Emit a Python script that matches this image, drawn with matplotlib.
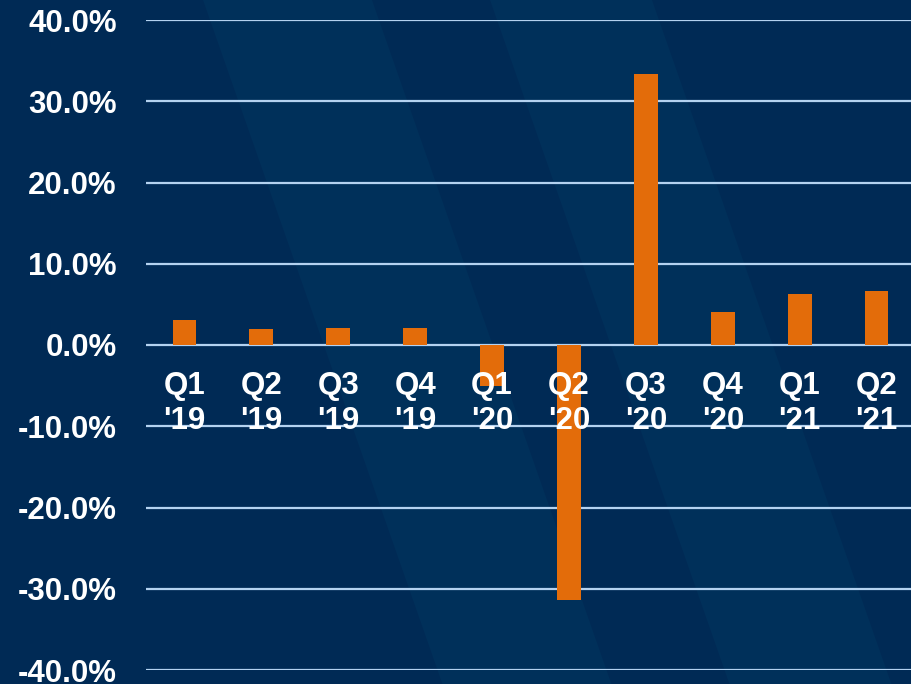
import matplotlib
matplotlib.use("Agg")
import matplotlib.pyplot as plt
from matplotlib.patches import Polygon
from matplotlib.ticker import FuncFormatter

quarters = ["Q1\n'19", "Q2\n'19", "Q3\n'19", "Q4\n'19", "Q1\n'20",
            "Q2\n'20", "Q3\n'20", "Q4\n'20", "Q1\n'21", "Q2\n'21"]
growth = [3.1, 2.0, 2.1, 2.1, -5.0, -31.4, 33.4, 4.1, 6.3, 6.7]
yticks = [-40, -30, -20, -10, 0, 10, 20, 30, 40]

plt.rcParams['font.family'] = ['Liberation Sans', 'DejaVu Sans']
plt.rcParams['font.weight'] = 'bold'

W, H = 912, 684
BG = '#002A55'
BAND = '#00305A'
fig = plt.figure(figsize=(W / 100, H / 100), dpi=100, facecolor=BG)

# background layer with decorative diagonal bands (pixel coords from top-left)
bg = fig.add_axes([0, 0, 1, 1], zorder=-1)
bg.set_xlim(0, W)
bg.set_ylim(H, 0)
bg.axis('off')
slope = 0.35
for x0, x1 in [(203, 372), (490, 652)]:
    pts = [(x0, 0), (x1, 0), (x1 + slope * H, H), (x0 + slope * H, H)]
    bg.add_patch(Polygon(pts, closed=True, facecolor=BAND, edgecolor='none'))

ax = fig.add_axes([146 / W, 14 / H, 769 / W, 650 / H], zorder=1)
ax.set_facecolor('none')

for t in yticks:
    ax.axhline(t, color='#B4D2F0', lw=1.6, zorder=1)

x = list(range(len(quarters)))
ax.bar(x, growth, width=0.31, color='#E36C0A', zorder=2)

ax.set_xlim(-0.5, len(quarters) - 0.5)
ax.set_ylim(-40, 40)
ax.set_yticks(yticks)
ax.yaxis.set_major_formatter(FuncFormatter(lambda v, p: f"{v:.1f}%"))
ax.set_xticks(x)
ax.set_xticklabels(quarters)

for s in ['top', 'right', 'left']:
    ax.spines[s].set_visible(False)
ax.spines['bottom'].set_position(('data', 0))
ax.spines['bottom'].set_visible(False)

for axis in (ax.xaxis, ax.yaxis):
    axis.set_zorder(3)
ax.tick_params(axis='both', length=0, colors='white', labelsize=22.5)
ax.tick_params(axis='y', pad=21)
ax.tick_params(axis='x', pad=19)
for lbl in ax.get_xticklabels() + ax.get_yticklabels():
    lbl.set_fontweight('bold')
for lbl in ax.get_xticklabels():
    lbl.set_linespacing(1.22)

fig.savefig('out.png', dpi=100, facecolor=BG)
